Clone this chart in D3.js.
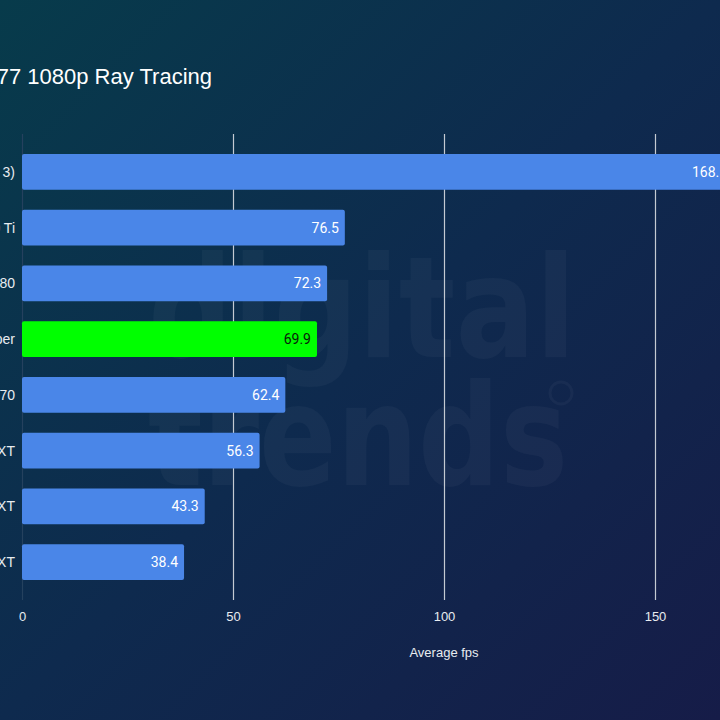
<!DOCTYPE html>
<html>
<head>
<meta charset="utf-8">
<script src="https://cdn.jsdelivr.net/npm/d3@7/dist/d3.min.js"></script>
<style>
html,body{margin:0;padding:0;background:#0d2c4c;}
svg{display:block;}
</style>
</head>
<body>
<svg id="chart" width="720" height="720"></svg>
<script>
const title = "Cyberpunk 2077 1080p Ray Tracing";
const categories = ["RTX 4070 Super (DLSS 3)", "RTX 4070 Ti", "RTX 3080", "RTX 4070 Super", "RTX 4070", "RX 7900 XT", "RX 7800 XT", "RX 7700 XT"];
const values = [168.5, 76.5, 72.3, 69.9, 62.4, 56.3, 43.3, 38.4];
const highlight = ["RTX 4070 Super"];
const xTicks = [0, 50, 100, 150];
const xLabel = "Average fps";

const svg = d3.select("#chart");
const W = 720, H = 720;

const defs = svg.append("defs");
const grad = defs.append("linearGradient").attr("id","bg")
  .attr("x1","0").attr("y1","0").attr("x2","1").attr("y2","1");
grad.append("stop").attr("offset","0%").attr("stop-color","#073b4b");
grad.append("stop").attr("offset","50%").attr("stop-color","#0e2a4e");
grad.append("stop").attr("offset","100%").attr("stop-color","#161c48");
svg.append("rect").attr("width",W).attr("height",H).attr("fill","url(#bg)");

// watermark
const wm = svg.append("g").attr("fill","#ffffff").attr("fill-opacity",0.035)
  .attr("font-family","'DejaVu Sans', sans-serif").attr("font-weight",700);
wm.append("text").attr("x",148).attr("y",357).attr("font-size",140)
  .attr("textLength",428).attr("lengthAdjust","spacingAndGlyphs").text("digital");
wm.append("text").attr("x",148).attr("y",485).attr("font-size",140)
  .attr("textLength",420).attr("lengthAdjust","spacingAndGlyphs").text("trends");
wm.append("circle").attr("cx",561).attr("cy",393).attr("r",11)
  .attr("fill","none").attr("stroke","#ffffff").attr("stroke-opacity",0.035).attr("stroke-width",3);

const x = d3.scaleLinear().domain([0,150]).range([22,655]);
const y = d3.scaleBand().domain(categories).range([134,600]).paddingInner(0.357).paddingOuter(0.357);

// title
svg.append("text").attr("x", 212).attr("y", 84).attr("text-anchor","end")
  .attr("font-family","'Liberation Sans', Arial, sans-serif").attr("font-size",22)
  .attr("fill","#ffffff").text(title);

// gridlines
const grid = svg.append("g");
grid.selectAll("line").data(xTicks).join("line")
  .attr("x1", d=>x(d)+0.5).attr("x2", d=>x(d)+0.5)
  .attr("y1",134).attr("y2",600)
  .attr("stroke", d=> d===0 ? "#25415e" : "#c4cad2").attr("stroke-width",1.2);

// x axis labels
const xAxis = d3.axisBottom(x).tickValues(xTicks).tickSize(0).tickPadding(0);
const gx = svg.append("g").attr("transform","translate(0,609)").call(xAxis);
gx.select(".domain").remove();
gx.selectAll("text").attr("font-family","'Liberation Sans', Arial, sans-serif")
  .attr("font-size",13).attr("fill","#e8ecf0").attr("dy","0.9em");

svg.append("text").attr("x", x(100)).attr("y", 657).attr("text-anchor","middle")
  .attr("font-family","'Liberation Sans', Arial, sans-serif").attr("font-size",13)
  .attr("fill","#e8ecf0").text(xLabel);

// bars
const data = categories.map((c,i)=>({c, v: values[i]}));
svg.append("g").selectAll("rect").data(data).join("rect")
  .attr("x", x(0)).attr("y", d=>y(d.c))
  .attr("width", d=>x(d.v)-x(0)).attr("height", y.bandwidth())
  .attr("rx",2)
  .attr("fill", d=> highlight.includes(d.c) ? "#00ff00" : "#4a86e8");

// value labels
svg.append("g").selectAll("text").data(data).join("text")
  .attr("x", d=>x(d.v)-6).attr("y", d=>y(d.c)+y.bandwidth()/2)
  .attr("dy","0.36em").attr("text-anchor","end")
  .attr("font-family","Roboto, sans-serif").attr("font-size",14)
  .attr("fill", d=> highlight.includes(d.c) ? "#0a1a0a" : "#ffffff")
  .text(d=>d.v.toFixed(1));

// category labels
svg.append("g").selectAll("text").data(data).join("text")
  .attr("x", 15).attr("y", d=>y(d.c)+y.bandwidth()/2)
  .attr("dy","0.36em").attr("text-anchor","end")
  .attr("font-family","'Liberation Sans', Arial, sans-serif").attr("font-size",14)
  .attr("fill","#e8ecf0").text(d=>d.c);
</script>
</body>
</html>
